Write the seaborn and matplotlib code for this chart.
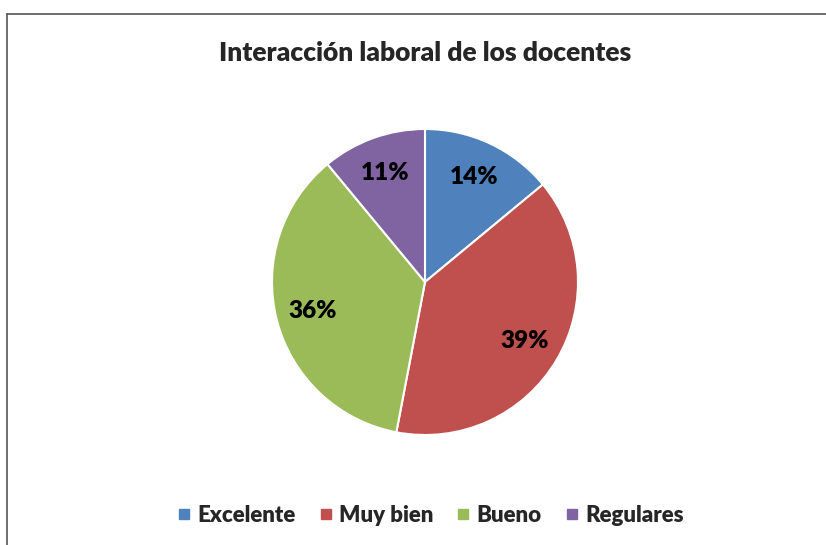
import matplotlib
matplotlib.use("Agg")
import matplotlib.pyplot as plt
import seaborn as sns
from matplotlib.lines import Line2D

sns.set_theme(style="white")
plt.rcParams['font.family'] = ['Lato', 'DejaVu Sans']

categories = ["Excelente", "Muy bien", "Bueno", "Regulares"]
values = [14, 39, 36, 11]
colors = ["#4F81BD", "#C0504D", "#9BBB59", "#8064A2"]
title = "Interacción laboral de los docentes"

fig = plt.figure(figsize=(8.26, 5.45), dpi=100)
fig.patch.set_facecolor("white")

R = 153
cx, cy = 425, 282
W, H = 826, 545
ax = fig.add_axes([(cx - R) / W, 1 - (cy + R) / H, 2 * R / W, 2 * R / H])
wedges, texts, autotexts = ax.pie(
    values, colors=colors, startangle=90, counterclock=False,
    autopct=lambda p: f"{p:.0f}%", pctdistance=0.76,
    wedgeprops=dict(edgecolor="white", linewidth=1.5),
    textprops=dict(fontsize=17.5, fontweight="heavy", color="black"))
ax.set_aspect("equal")
ax.set_xlim(-1, 1)
ax.set_ylim(-1, 1)
ax.axis("off")

fig.text(cx / W, 1 - 53 / H, title, ha="center", va="center",
         fontsize=19, fontweight="heavy")

handles = [Line2D([], [], marker="s", linestyle="", markersize=6.5,
                  markerfacecolor=c, markeredgecolor=c) for c in colors]
fig.legend(handles, categories, loc="center", bbox_to_anchor=(431 / W, 1 - 515 / H),
           ncol=4, frameon=False, handlelength=0.5, handletextpad=0.35,
           columnspacing=1.1, prop=dict(size=16, weight="heavy"))

# border lines (top and left)
fig.add_artist(Line2D([7.5 / W, 7.5 / W], [0, 1 - 13.5 / H], transform=fig.transFigure,
                      color="#555555", linewidth=1.2))
fig.add_artist(Line2D([7.5 / W, 1], [1 - 13.5 / H, 1 - 13.5 / H], transform=fig.transFigure,
                      color="#555555", linewidth=1.2))

fig.savefig("out.png", dpi=100)
